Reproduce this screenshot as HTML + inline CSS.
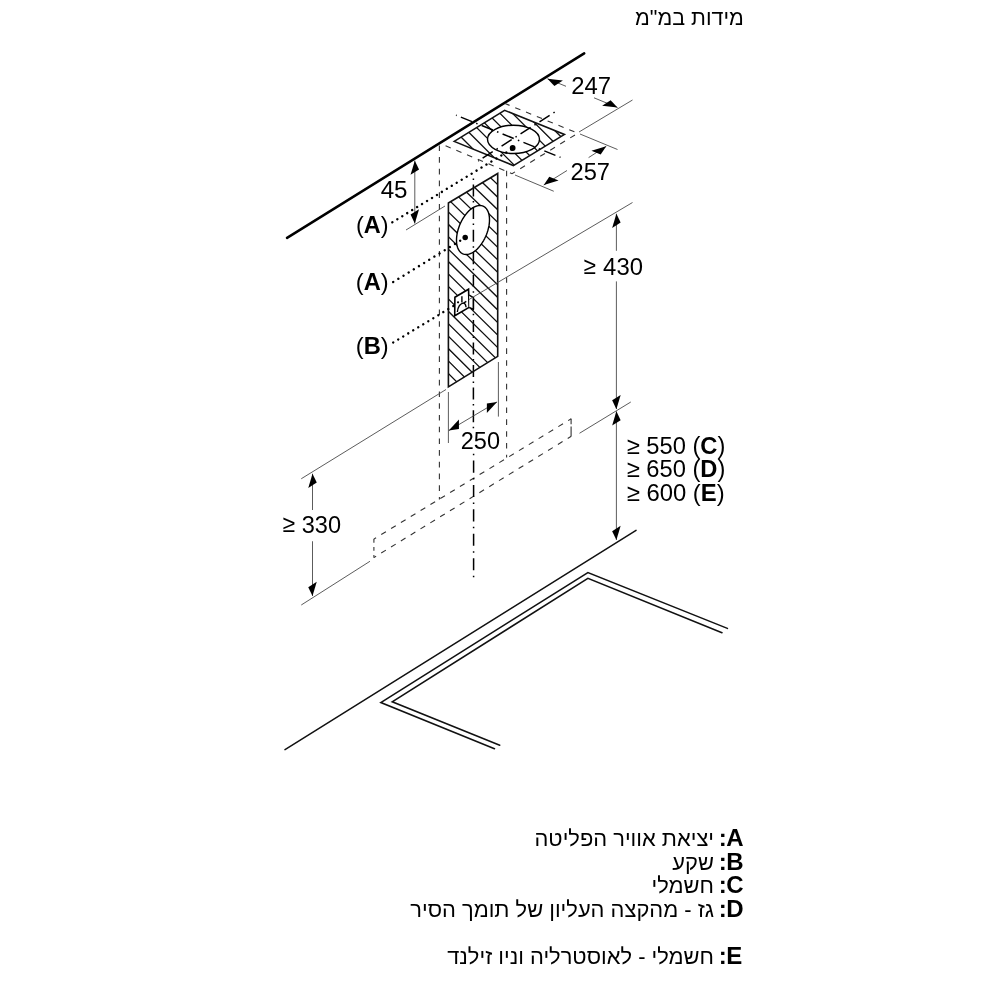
<!DOCTYPE html>
<html><head><meta charset="utf-8"><style>
html,body{margin:0;padding:0;background:#fff;width:1000px;height:1000px;overflow:hidden}
body{position:relative;font-family:"Liberation Sans",sans-serif;color:#000}
svg{position:absolute;left:0;top:0;will-change:transform}
.he{position:absolute;white-space:nowrap;direction:rtl;font-size:22.4px;line-height:1}
.lb{position:absolute;white-space:nowrap;font-weight:bold;font-size:24px;line-height:1}
</style></head><body>
<svg width="1000" height="1000" viewBox="0 0 1000 1000">
<rect width="1000" height="1000" fill="#fff"/>
<g fill="none" stroke="#000" stroke-linecap="butt">
<line x1="287.05" y1="237.85" x2="584.2" y2="53.4" stroke-width="2.5" stroke-linecap="round"/>
<line x1="285" y1="749.6" x2="636.05" y2="530.3" stroke-width="1.5" stroke="#111" stroke-linecap="round"/>
<polyline points="494.5,748.7 380.8,702.5 587.9,572.6 727.4,628.4" stroke-width="1.5" stroke="#111" stroke-linejoin="miter" stroke-linecap="round"/>
<polyline points="499.75,745.25 392.2,701.75 587.9,578.4 722,632.75" stroke-width="1.5" stroke="#111" stroke-linejoin="miter" stroke-linecap="round"/>
<line x1="505" y1="103.5" x2="577.8" y2="133.2" stroke-width="1.1" stroke="#333" stroke-dasharray="5.6 6.07" stroke-dashoffset="0.65"/>
<line x1="577.8" y1="133.2" x2="512" y2="173.7" stroke-width="1.1" stroke="#333" stroke-dasharray="5.6 6.15" stroke-dashoffset="8.45"/>
<line x1="440" y1="143.5" x2="512" y2="173.7" stroke-width="1.1" stroke="#333" stroke-dasharray="5.6 6.03" stroke-dashoffset="5.58"/>
<line x1="439.4" y1="145.4" x2="439.4" y2="499.5" stroke-width="1.1" stroke="#333" stroke-dasharray="5.6 6.12" stroke-dashoffset="0"/>
<line x1="506.6" y1="170.7" x2="506.6" y2="457.5" stroke-width="1.1" stroke="#333" stroke-dasharray="5.6 6.24" stroke-dashoffset="0"/>
<line x1="373.75" y1="539.1" x2="571.25" y2="418.75" stroke-width="1.1" stroke="#333" stroke-dasharray="5.5 6.02" stroke-dashoffset="2.75"/>
<line x1="373.75" y1="557.6" x2="571.25" y2="436.25" stroke-width="1.1" stroke="#333" stroke-dasharray="5.5 6.02" stroke-dashoffset="2.75"/>
<line x1="373.9" y1="539.1" x2="373.9" y2="557.6" stroke-width="1.1" stroke="#333" stroke-dasharray="3.6 4.4" stroke-dashoffset="0"/>
<line x1="571.1" y1="418.75" x2="571.1" y2="436.25" stroke-width="1.1" stroke="#333" stroke-dasharray="5.5 2.2 10" stroke-dashoffset="0"/>
<line x1="473.4" y1="178.5" x2="473.4" y2="428.2" stroke-width="1.5" stroke-dasharray="1.5 4.55 12 4.51"/>
<line x1="473.6" y1="453.65" x2="473.6" y2="577.2" stroke-width="1.5" stroke-dasharray="1.5 5.4 12.1 5.4"/>
</g>
<defs>
<clipPath id="cc"><path clip-rule="evenodd" d="M454.2,141.4 L504.6,110.25 L564.5,134.5 L513.35,165.55 Z M487.5,139.35 a26,14.15 0 1 0 52,0 a26,14.15 0 1 0 -52,0 Z"/></clipPath>
<clipPath id="wc"><path clip-rule="evenodd" d="M448.4,203 L497.7,173.5 497.7,356.4 448.4,386.9 Z M489.5,219.8 L489.44,221.78 489.25,223.83 488.94,225.92 488.5,228.04 487.95,230.18 487.29,232.32 486.52,234.44 485.64,236.52 484.67,238.56 483.61,240.53 482.46,242.42 481.25,244.21 479.97,245.9 478.64,247.47 477.27,248.9 475.87,250.19 474.44,251.33 473,252.3 471.56,253.1 470.13,253.73 468.73,254.18 467.36,254.44 466.03,254.52 464.75,254.41 463.54,254.12 462.39,253.64 461.33,252.98 460.36,252.15 459.48,251.15 458.71,249.98 458.05,248.67 457.5,247.21 457.06,245.62 456.75,243.92 456.56,242.1 456.5,240.2 456.56,238.22 456.75,236.17 457.06,234.08 457.5,231.96 458.05,229.82 458.71,227.68 459.48,225.56 460.36,223.48 461.33,221.44 462.39,219.47 463.54,217.58 464.75,215.79 466.03,214.1 467.36,212.53 468.73,211.1 470.13,209.81 471.56,208.67 473,207.7 474.44,206.9 475.87,206.27 477.27,205.82 478.64,205.56 479.97,205.48 481.25,205.59 482.46,205.88 483.61,206.36 484.67,207.02 485.64,207.85 486.52,208.85 487.29,210.02 487.95,211.33 488.5,212.79 488.94,214.38 489.25,216.08 489.44,217.9 Z M454.75,297.5 L468.75,289.5 473,297.5 473,309.5 468.75,307.75 454.75,316 Z"/></clipPath>
</defs>
<path d="M440,-59.42L580,80.58M440,-46.89L580,93.11M440,-34.36L580,105.64M440,-21.83L580,118.17M440,-9.3L580,130.7M440,3.23L580,143.23M440,15.76L580,155.76M440,28.29L580,168.29M440,40.82L580,180.82M440,53.35L580,193.35M440,65.88L580,205.88M440,78.41L580,218.41M440,90.94L580,230.94M440,103.47L580,243.47M440,116L580,256M440,128.53L580,268.53M440,141.06L580,281.06M440,153.59L580,293.59M440,166.12L580,306.12" stroke="#111" stroke-width="1.3" fill="none" clip-path="url(#cc)"/>
<polygon points="454.2,141.4 504.6,110.25 564.5,134.5 513.35,165.55" fill="none" stroke="#111" stroke-width="1.5"/>
<ellipse cx="513.5" cy="139.35" rx="26" ry="14.15" fill="none" stroke="#000" stroke-width="1.4"/>
<circle cx="512.65" cy="148" r="2.9" fill="#000"/>
<g stroke="#000" stroke-width="1.5" fill="none" stroke-dasharray="1.5 4.5 12 4.5" stroke-dashoffset="0.75">
<line x1="456" y1="115.15" x2="560.5" y2="157.4" stroke-width="1.5" />
<line x1="478.2" y1="161" x2="555.2" y2="111.8" stroke-width="1.5" />
</g>
<path d="M440,104.46L510,171.38M440,116.87L510,183.93M440,129.29L510,196.49M440,141.7L510,209.04M440,154.11L510,221.59M440,166.53L510,234.15M440,178.94L510,246.7M440,191.35L510,259.25M440,203.77L510,271.81M440,216.18L510,284.36M440,228.59L510,296.91M440,241L510,309.46M440,253.42L510,322.02M440,265.83L510,334.57M440,278.24L510,347.12M440,290.66L510,359.68M440,303.07L510,372.23M440,315.48L510,384.78M440,327.9L510,397.34M440,340.31L510,409.89M440,352.72L510,422.44M440,365.14L510,435M440,377.55L510,447.55" stroke="#111" stroke-width="1.3" fill="none" clip-path="url(#wc)"/>
<polygon points="448.4,203 497.7,173.5 497.7,356.4 448.4,386.9" fill="none" stroke="#111" stroke-width="1.6"/>
<polygon points="489.5,219.8 489.44,221.78 489.25,223.83 488.94,225.92 488.5,228.04 487.95,230.18 487.29,232.32 486.52,234.44 485.64,236.52 484.67,238.56 483.61,240.53 482.46,242.42 481.25,244.21 479.97,245.9 478.64,247.47 477.27,248.9 475.87,250.19 474.44,251.33 473,252.3 471.56,253.1 470.13,253.73 468.73,254.18 467.36,254.44 466.03,254.52 464.75,254.41 463.54,254.12 462.39,253.64 461.33,252.98 460.36,252.15 459.48,251.15 458.71,249.98 458.05,248.67 457.5,247.21 457.06,245.62 456.75,243.92 456.56,242.1 456.5,240.2 456.56,238.22 456.75,236.17 457.06,234.08 457.5,231.96 458.05,229.82 458.71,227.68 459.48,225.56 460.36,223.48 461.33,221.44 462.39,219.47 463.54,217.58 464.75,215.79 466.03,214.1 467.36,212.53 468.73,211.1 470.13,209.81 471.56,208.67 473,207.7 474.44,206.9 475.87,206.27 477.27,205.82 478.64,205.56 479.97,205.48 481.25,205.59 482.46,205.88 483.61,206.36 484.67,207.02 485.64,207.85 486.52,208.85 487.29,210.02 487.95,211.33 488.5,212.79 488.94,214.38 489.25,216.08 489.44,217.9" fill="none" stroke="#000" stroke-width="1.4" stroke-linejoin="round"/>
<circle cx="465.2" cy="237.5" r="2.75" fill="#000"/>
<polygon points="454.9,297.25 468.55,289.2 469.1,307.4 454.7,315.8" fill="#fff" stroke="#000" stroke-width="1.6"/>
<polyline points="469.25,295.15 473.3,297.6 473.3,309.5 469.25,307.4" fill="#fff" stroke="#000" stroke-width="1.5"/>
<path d="M461.9,296.2V302.5M457.35,312Q458.3,303.5 464,302.85Q465.8,304 466.1,307.2M463.2,303.3L466.3,301.4" fill="none" stroke="#000" stroke-width="1.4"/>
<circle cx="458.05" cy="302.3" r="1.1" fill="#000"/>
<g stroke="#4a4a4a" fill="none">
<line x1="547.5" y1="78.75" x2="566" y2="86.3" stroke-width="0.9" />
<line x1="594" y1="97.8" x2="617.5" y2="107.5" stroke-width="0.9" />
<line x1="579" y1="132" x2="632.5" y2="100" stroke-width="0.9" />
<line x1="543.75" y1="185" x2="567" y2="170.5" stroke-width="0.9" />
<line x1="588.6" y1="157.6" x2="606.25" y2="146.25" stroke-width="0.9" />
<line x1="515" y1="175" x2="553.75" y2="191.25" stroke-width="0.9" />
<line x1="580" y1="134" x2="617.5" y2="149.5" stroke-width="0.9" />
<line x1="414.8" y1="160.5" x2="414.8" y2="223.5" stroke-width="0.9" />
<line x1="406" y1="230" x2="445" y2="206" stroke-width="0.9" />
<line x1="616.4" y1="213.75" x2="616.4" y2="250.8" stroke-width="0.9" />
<line x1="616.4" y1="281.4" x2="616.4" y2="409" stroke-width="0.9" />
<line x1="469" y1="299.5" x2="632.5" y2="202.5" stroke-width="0.9" />
<line x1="579.5" y1="433.25" x2="630.8" y2="402" stroke-width="0.9" />
<line x1="616.4" y1="411.3" x2="616.4" y2="540" stroke-width="0.9" />
<line x1="448.4" y1="392" x2="448.4" y2="443" stroke-width="0.9" />
<line x1="498.4" y1="362" x2="498.4" y2="416.6" stroke-width="0.9" />
<line x1="448.75" y1="430.6" x2="497.05" y2="401.9" stroke-width="0.9" />
<line x1="312.5" y1="473.75" x2="312.5" y2="510" stroke-width="0.9" />
<line x1="312.5" y1="541.25" x2="312.5" y2="596" stroke-width="0.9" />
<line x1="301.25" y1="478.75" x2="446" y2="389.5" stroke-width="0.9" />
<line x1="301.25" y1="605" x2="370" y2="561.25" stroke-width="0.9" />
</g>
<polygon points="414.8,160.7 419.05,169.57 410.55,174.83" fill="#000" stroke="none"/>
<polygon points="414.8,223.4 419.05,209.27 410.55,214.53" fill="#000" stroke="none"/>
<polygon points="616.4,213.75 620.65,222.62 612.15,227.88" fill="#000" stroke="none"/>
<polygon points="616.4,409.2 620.65,395.07 612.15,400.33" fill="#000" stroke="none"/>
<polygon points="616.4,411.3 620.65,420.17 612.15,425.43" fill="#000" stroke="none"/>
<polygon points="616.4,540 620.65,525.87 612.15,531.13" fill="#000" stroke="none"/>
<polygon points="312.5,473.75 316.75,482.62 308.25,487.88" fill="#000" stroke="none"/>
<polygon points="312.5,596 316.75,581.87 308.25,587.13" fill="#000" stroke="none"/>
<polygon points="448.75,430.6 458.95,429.08 458.95,419.48" fill="#000" stroke="none"/>
<polygon points="497.05,401.9 486.85,413.02 486.85,403.42" fill="#000" stroke="none"/>
<polygon points="547.5,78.75 562.87,80.62 554.37,85.89" fill="#000" stroke="none"/>
<polygon points="617.5,107.5 610.63,100.36 602.13,105.63" fill="#000" stroke="none"/>
<polygon points="543.75,185 558.58,180.55 549.31,176.8" fill="#000" stroke="none"/>
<polygon points="606.25,146.25 600.69,154.45 591.42,150.7" fill="#000" stroke="none"/>
<g stroke="#000" fill="none">
<line x1="392.35" y1="222.25" x2="512.65" y2="148.5" stroke-width="2.4" stroke-dasharray="0.01 5.8" stroke-linecap="round"/>
<line x1="393.2" y1="282" x2="465.2" y2="237.6" stroke-width="2.4" stroke-dasharray="0.01 6.04" stroke-linecap="round"/>
<line x1="393.2" y1="342.5" x2="458" y2="303.2" stroke-width="2.4" stroke-dasharray="0.01 5.85" stroke-linecap="round"/>
</g>
<g font-family="Liberation Sans" fill="#000">
<text x="571" y="94.1" font-size="24" transform="matrix(0.9947,0,0,1,3.311,0)">247</text>
<text x="571" y="180.1" font-size="24" transform="matrix(0.9868,0,0,1,7.026,0)">257</text>
<text x="380.5" y="198.3" font-size="24" transform="matrix(1.0080,0,0,1,-2.898,0)">45</text>
<text x="584" y="274" font-size="24" transform="matrix(0.9333,0,0,1,38.550,0)">≥</text>
<text x="603" y="275" font-size="24" transform="matrix(0.9949,0,0,1,3.192,0)">430</text>
<text x="461.5" y="449.5" font-size="24" transform="matrix(0.9803,0,0,1,8.388,0)">250</text>
<text x="627" y="454" font-size="24" transform="matrix(0.9878,0,0,1,7.390,0)">≥ 550 (<tspan font-weight="bold">C</tspan>)</text>
<text x="627" y="477.4" font-size="24" transform="matrix(0.9878,0,0,1,7.390,0)">≥ 650 (<tspan font-weight="bold">D</tspan>)</text>
<text x="627" y="500.9" font-size="24" transform="matrix(0.9948,0,0,1,2.937,0)">≥ 600 (<tspan font-weight="bold">E</tspan>)</text>
<text x="282.5" y="532.5" font-size="24" transform="matrix(0.9500,0,0,1,14.050,0)">≥</text>
<text x="302" y="533.5" font-size="24" transform="matrix(0.9829,0,0,1,4.933,0)">330</text>
<text x="356" y="233" font-size="24" transform="matrix(0.9774,0,0,1,7.961,0)">(<tspan font-weight="bold">A</tspan>)</text>
<text x="356" y="289.8" font-size="24" transform="matrix(0.9871,0,0,1,4.356,0)">(<tspan font-weight="bold">A</tspan>)</text>
<text x="356" y="353.7" font-size="24" transform="matrix(0.9871,0,0,1,4.356,0)">(<tspan font-weight="bold">B</tspan>)</text>
<text x="726.3" y="846.45" font-size="24" font-weight="bold">A</text>
<text x="718.8" y="846.45" font-size="24" font-weight="bold">:</text>
<text x="714" y="846.45" font-size="21.9" direction="rtl" text-anchor="start">יציאת אוויר הפליטה</text>
<text x="726.3" y="869.95" font-size="24" font-weight="bold">B</text>
<text x="718.8" y="869.95" font-size="24" font-weight="bold">:</text>
<text x="714" y="869.95" font-size="21.9" direction="rtl" text-anchor="start">שקע</text>
<text x="726.3" y="893.45" font-size="24" font-weight="bold">C</text>
<text x="718.8" y="893.45" font-size="24" font-weight="bold">:</text>
<text x="714" y="893.45" font-size="21.9" direction="rtl" text-anchor="start">חשמלי</text>
<text x="726.3" y="916.95" font-size="24" font-weight="bold">D</text>
<text x="718.8" y="916.95" font-size="24" font-weight="bold">:</text>
<text x="714" y="916.95" font-size="21.9" direction="rtl" text-anchor="start">גז - מהקצה העליון של תומך הסיר</text>
<text x="726.3" y="963.95" font-size="24" font-weight="bold">E</text>
<text x="718.8" y="963.95" font-size="24" font-weight="bold">:</text>
<text x="714" y="963.95" font-size="21.9" direction="rtl" text-anchor="start">חשמלי - לאוסטרליה וניו זילנד</text>
<text x="743.8" y="25.1" font-size="21.5" direction="rtl" text-anchor="start">מידות במ&quot;מ</text>
</g>
</svg>
</body></html>
